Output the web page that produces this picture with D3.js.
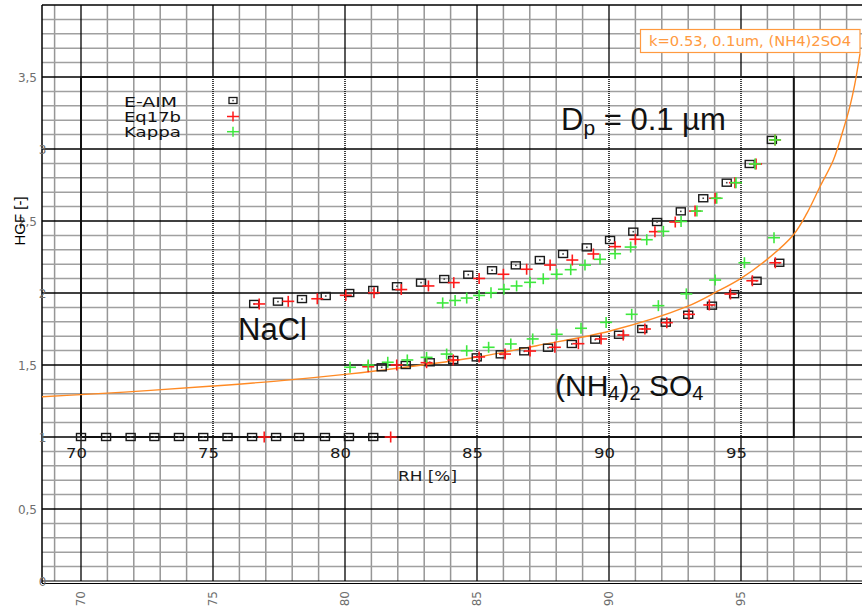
<!DOCTYPE html>
<html>
<head>
<meta charset="utf-8">
<script src="https://cdn.jsdelivr.net/npm/d3@7"></script>
<style>
  body { margin: 0; background: #fff; }
  svg { display: block; }
</style>
</head>
<body>
<svg id="chart" width="862" height="609"></svg>
<script>
// ticks
const rhTicks = [70, 75, 80, 85, 90, 95];
const hgfTicks = [0, 0.5, 1, 1.5, 2, 2.5, 3, 3.5];
const hgfLabels = ["0", "0,5", "1", "1,5", "2", "2,5", "3", "3,5"];

// dry particles, HGF = 1
const eaimDryRH = [70.0, 70.95, 71.88, 72.78, 73.71, 74.63, 75.55, 76.48, 77.39, 78.26, 79.24, 80.15, 81.07];
const eaimDryHGF = [1, 1, 1, 1, 1, 1, 1, 1, 1, 1, 1, 1, 1];
const eq17bDryRH = [76.94, 81.73];
const eq17bDryHGF = [1, 1];

// NaCl branch
const eaimNaClRH = [76.56, 77.46, 78.37, 79.27, 80.16, 81.07, 81.97, 82.88, 83.76, 84.67, 85.57, 86.47, 87.38, 88.26, 89.16, 90.04, 90.92, 91.82, 92.72, 93.57, 94.46, 95.33, 96.17];
const eaimNaClHGF = [1.924, 1.94, 1.958, 1.979, 2.0, 2.021, 2.047, 2.072, 2.097, 2.127, 2.158, 2.192, 2.229, 2.271, 2.317, 2.368, 2.426, 2.493, 2.567, 2.658, 2.766, 2.896, 3.063];
const eq17bNaClRH = [76.75, 77.85, 78.95, 80.03, 81.1, 82.13, 83.16, 84.12, 85.08, 86.0, 86.88, 87.77, 88.61, 89.41, 90.23, 91.0, 91.74, 92.51, 93.26, 94.02, 94.77, 95.57, 96.29];
const eq17bNaClHGF = [1.924, 1.942, 1.96, 1.984, 2.002, 2.024, 2.049, 2.072, 2.101, 2.13, 2.165, 2.194, 2.229, 2.271, 2.322, 2.373, 2.426, 2.493, 2.569, 2.658, 2.766, 2.896, 3.063];
const kappaNaClRH = [83.7, 84.17, 84.61, 85.08, 85.53, 86.02, 86.5, 87.01, 87.51, 88.02, 88.55, 89.09, 89.66, 90.23, 90.82, 91.43, 92.06, 92.73, 93.33, 94.08, 94.81, 95.53, 96.29];
const kappaNaClHGF = [1.931, 1.948, 1.965, 1.983, 2.002, 2.026, 2.049, 2.074, 2.099, 2.13, 2.162, 2.194, 2.234, 2.273, 2.319, 2.37, 2.428, 2.497, 2.569, 2.658, 2.766, 2.896, 3.063];

// (NH4)2SO4 branch
const eaimASRH = [81.39, 82.3, 83.21, 84.1, 84.99, 85.9, 86.79, 87.69, 88.59, 89.48, 90.38, 91.26, 92.15, 93.0, 93.9, 94.74, 95.59, 96.45];
const eaimASHGF = [1.484, 1.5, 1.519, 1.535, 1.553, 1.574, 1.595, 1.62, 1.646, 1.676, 1.71, 1.75, 1.794, 1.849, 1.912, 1.992, 2.085, 2.21];
const eq17bASRH = [80.88, 81.96, 83.09, 84.1, 85.08, 86.06, 87.01, 87.95, 88.84, 89.7, 90.54, 91.36, 92.19, 93.03, 93.8, 94.6, 95.43, 96.3];
const eq17bASHGF = [1.488, 1.5, 1.516, 1.535, 1.556, 1.576, 1.597, 1.623, 1.648, 1.681, 1.708, 1.75, 1.794, 1.852, 1.917, 1.993, 2.085, 2.21];
const kappaASRH = [80.19, 80.88, 81.62, 82.36, 83.09, 83.85, 84.61, 85.44, 86.28, 87.11, 88.02, 88.94, 89.89, 90.86, 91.87, 92.93, 94.02, 95.13, 96.25];
const kappaASHGF = [1.484, 1.5, 1.519, 1.535, 1.553, 1.576, 1.599, 1.623, 1.646, 1.681, 1.713, 1.755, 1.796, 1.852, 1.912, 1.994, 2.09, 2.21, 2.384];

// k=0.53 curve
const curveRH = [68.52, 70, 72.5, 75, 77.5, 80, 82.5, 84.73, 86.0, 87.26, 90.04, 92.94, 94.08, 95.0, 96.0, 96.98, 97.5, 97.99, 98.5, 98.85, 99.13, 99.3, 99.51];
const curveHGF = [1.28, 1.294, 1.322, 1.354, 1.39, 1.435, 1.49, 1.547, 1.588, 1.634, 1.736, 1.905, 2.009, 2.102, 2.235, 2.403, 2.555, 2.738, 2.924, 3.12, 3.3, 3.44, 3.665];

const svg = d3.select("#chart");
const pLeft = 42, pRight = 862, pTop = 5, pBottom = 581;

const x = d3.scaleLinear().domain([70, 95]).range([81, 741]);
const y = d3.scaleLinear().domain([0, 4]).range([pBottom, pTop]);

const zip = (a, b) => a.map((v, i) => [v, b[i]]);

// background grid (graph paper)
const grid = svg.append("g");
const minorX = d3.range(69, 100).filter(v => v % 5 !== 0);
const minorY = d3.range(1, 40).map(i => i / 10).filter(v => Math.round(v * 10) % 5 !== 0);

grid.selectAll(".vminor")
  .data(minorX)
  .enter()
  .append("line")
  .attr("x1", d => x(d)).attr("x2", d => x(d))
  .attr("y1", pTop).attr("y2", pBottom)
  .attr("stroke", "#969696")
  .attr("stroke-width", 1.5);

grid.selectAll(".hminor")
  .data(minorY)
  .enter()
  .append("line")
  .attr("x1", pLeft).attr("x2", pRight)
  .attr("y1", d => y(d)).attr("y2", d => y(d))
  .attr("stroke", "#a0a0a0")
  .attr("stroke-width", 1.5);

// major lines
grid.selectAll(".hmajor")
  .data(hgfTicks.filter(v => v > 0))
  .enter()
  .append("line")
  .attr("x1", pLeft).attr("x2", pRight)
  .attr("y1", d => y(d)).attr("y2", d => y(d))
  .attr("stroke", "#000")
  .attr("stroke-width", 1.3);

// vertical majors: solid outside the inset, dotted inside it
rhTicks.forEach(v => {
  grid.append("line")
    .attr("x1", x(v)).attr("x2", x(v))
    .attr("y1", pTop).attr("y2", y(3.5))
    .attr("stroke", "#000").attr("stroke-width", 1.3);
  grid.append("line")
    .attr("x1", x(v)).attr("x2", x(v))
    .attr("y1", y(1)).attr("y2", pBottom)
    .attr("stroke", "#000").attr("stroke-width", 1.3);
  grid.append("line")
    .attr("x1", x(v)).attr("x2", x(v))
    .attr("y1", y(3.5)).attr("y2", y(1))
    .attr("stroke", "#000").attr("stroke-width", 1.5)
    .attr("stroke-dasharray", v === 70 ? null : "1,1");
});

// frame
svg.append("line").attr("x1", pLeft).attr("x2", pLeft).attr("y1", pTop).attr("y2", pBottom + 2)
  .attr("stroke", "#000").attr("stroke-width", 1.5);
svg.append("line").attr("x1", pLeft).attr("x2", pRight).attr("y1", pTop).attr("y2", pTop)
  .attr("stroke", "#000").attr("stroke-width", 1.5);
[pBottom, pBottom + 2.5].forEach(b => {
  svg.append("line").attr("x1", pLeft).attr("x2", pRight).attr("y1", b).attr("y2", b)
    .attr("stroke", "#000").attr("stroke-width", 1.2);
});

// outer y tick labels
svg.append("g")
  .selectAll("text")
  .data(hgfTicks)
  .enter()
  .append("text")
  .attr("x", (d, i) => hgfLabels[i].length > 1 ? 37 : 42.5)
  .attr("y", d => y(d) + 4.5)
  .attr("text-anchor", (d, i) => hgfLabels[i].length > 1 ? "end" : "middle")
  .attr("fill", "#6e6e6e")
  .style("font-family", "DejaVu Sans")
  .style("font-size", "12px")
  .text((d, i) => hgfLabels[i]);

// outer x tick labels, rotated
svg.append("g")
  .selectAll("text")
  .data(rhTicks)
  .enter()
  .append("text")
  .attr("transform", d => `translate(${x(d) + 4},591) rotate(-90)`)
  .attr("text-anchor", "end")
  .attr("fill", "#6e6e6e")
  .style("font-family", "DejaVu Sans")
  .style("font-size", "12px")
  .text(d => d);

svg.append("text")
  .attr("transform", "translate(25,221) rotate(-90)")
  .attr("text-anchor", "middle")
  .attr("fill", "#000")
  .style("font-family", "Liberation Sans")
  .style("font-size", "15px")
  .text("HGF [-]");

// inset frame
svg.append("rect")
  .attr("x", x(70)).attr("y", y(3.5))
  .attr("width", x(97) - x(70)).attr("height", y(1) - y(3.5))
  .attr("fill", "none")
  .attr("stroke", "#111")
  .attr("stroke-width", 2);

// inset x tick labels
svg.append("g")
  .selectAll("text")
  .data(rhTicks)
  .enter()
  .append("text")
  .attr("x", d => x(d) - 15)
  .attr("y", 458)
  .attr("textLength", 21)
  .attr("lengthAdjust", "spacingAndGlyphs")
  .attr("fill", "#1a1a1a")
  .style("font-family", "DejaVu Sans")
  .style("font-size", "13.5px")
  .text(d => d);

svg.append("text")
  .attr("x", 398).attr("y", 481)
  .attr("textLength", 59)
  .attr("lengthAdjust", "spacingAndGlyphs")
  .attr("fill", "#1a1a1a")
  .style("font-family", "DejaVu Sans")
  .style("font-size", "13.5px")
  .text("RH [%]");

// k=0.53 curve
svg.append("clipPath").attr("id", "plotclip")
  .append("rect").attr("x", pLeft).attr("y", pTop).attr("width", pRight - pLeft).attr("height", pBottom - pTop);

const line = d3.line()
  .x(d => x(d[0]))
  .y(d => y(d[1]))
  .curve(d3.curveCatmullRom.alpha(0.5));

svg.append("path")
  .datum(zip(curveRH, curveHGF))
  .attr("clip-path", "url(#plotclip)")
  .attr("fill", "none")
  .attr("stroke", "#ff8a24")
  .attr("stroke-width", 1.4)
  .attr("d", line);

// markers
function drawSquares(rh, hgf) {
  const g = svg.append("g");
  const pts = zip(rh, hgf);
  g.selectAll("rect.box")
    .data(pts)
    .enter()
    .append("rect")
    .attr("class", "box")
    .attr("x", d => x(d[0]) - 4.5)
    .attr("y", d => y(d[1]) - 3.5)
    .attr("width", 9).attr("height", 7)
    .attr("fill", "none")
    .attr("stroke", "#1a1a1a")
    .attr("stroke-width", 1.4);
  g.selectAll("rect.dot")
    .data(pts)
    .enter()
    .append("rect")
    .attr("class", "dot")
    .attr("x", d => x(d[0]) - 0.8)
    .attr("y", d => y(d[1]) - 0.8)
    .attr("width", 1.6).attr("height", 1.6)
    .attr("fill", "#444");
}

function drawCrosses(rh, hgf, color) {
  const g = svg.append("g").attr("stroke", color).attr("stroke-width", 1.6);
  const pts = zip(rh, hgf);
  g.selectAll("line.h")
    .data(pts)
    .enter()
    .append("line")
    .attr("class", "h")
    .attr("x1", d => x(d[0]) - 6).attr("x2", d => x(d[0]) + 6)
    .attr("y1", d => y(d[1])).attr("y2", d => y(d[1]));
  g.selectAll("line.v")
    .data(pts)
    .enter()
    .append("line")
    .attr("class", "v")
    .attr("x1", d => x(d[0])).attr("x2", d => x(d[0]))
    .attr("y1", d => y(d[1]) - 5.5).attr("y2", d => y(d[1]) + 5.5);
}

drawSquares(eaimDryRH, eaimDryHGF);
drawSquares(eaimNaClRH, eaimNaClHGF);
drawSquares(eaimASRH, eaimASHGF);
drawCrosses(eq17bDryRH, eq17bDryHGF, "#ff1a1a");
drawCrosses(eq17bNaClRH, eq17bNaClHGF, "#ff1a1a");
drawCrosses(eq17bASRH, eq17bASHGF, "#ff1a1a");
drawCrosses(kappaNaClRH, kappaNaClHGF, "#3ee83e");
drawCrosses(kappaASRH, kappaASHGF, "#3ee83e");

// legend
const legendNames = ["E-AIM", "Eq17b", "Kappa"];
const legendWidths = [53, 57, 57];
legendNames.forEach((name, i) => {
  const ly = 101 + i * 15.3;
  svg.append("text")
    .attr("x", 124).attr("y", ly + 5.5)
    .attr("textLength", legendWidths[i])
    .attr("lengthAdjust", "spacingAndGlyphs")
    .attr("fill", "#111")
    .style("font-family", "DejaVu Sans")
    .style("font-size", "14px")
    .text(name);
});
svg.append("rect").attr("x", 229).attr("y", 97.5).attr("width", 8).attr("height", 6)
  .attr("fill", "none").attr("stroke", "#1a1a1a").attr("stroke-width", 1.3);
svg.append("rect").attr("x", 232.3).attr("y", 99.8).attr("width", 1.5).attr("height", 1.5).attr("fill", "#444");
[["#ff1a1a", 116.5], ["#3ee83e", 131.7]].forEach(([c, cy]) => {
  svg.append("line").attr("x1", 227).attr("x2", 239).attr("y1", cy).attr("y2", cy)
    .attr("stroke", c).attr("stroke-width", 1.5);
  svg.append("line").attr("x1", 233).attr("x2", 233).attr("y1", cy - 5).attr("y2", cy + 5)
    .attr("stroke", c).attr("stroke-width", 1.5);
});

// big annotations
const dp = svg.append("text")
  .attr("x", 561).attr("y", 130)
  .attr("fill", "#111")
  .style("font-family", "Liberation Sans")
  .style("font-size", "31px");
dp.append("tspan").text("D");
dp.append("tspan").attr("dy", 5).style("font-size", "21px").text("p");
dp.append("tspan").attr("dy", -5).text(" = 0.1 µm");

svg.append("text")
  .attr("x", 238).attr("y", 340)
  .attr("fill", "#111")
  .style("font-family", "Liberation Sans")
  .style("font-size", "31px")
  .text("NaCl");

const as = svg.append("text")
  .attr("x", 555).attr("y", 396)
  .attr("fill", "#111")
  .style("font-family", "Liberation Sans")
  .style("font-size", "30px");
as.append("tspan").text("(NH");
as.append("tspan").attr("dy", 4).style("font-size", "20px").text("4");
as.append("tspan").attr("dy", -4).text(")");
as.append("tspan").attr("dy", 4).style("font-size", "20px").text("2");
as.append("tspan").attr("dy", -4).text(" SO");
as.append("tspan").attr("dy", 4).style("font-size", "20px").text("4");

// curve tag
svg.append("rect")
  .attr("x", 640.5).attr("y", 29.5)
  .attr("width", 219.5).attr("height", 23)
  .attr("fill", "#fff")
  .attr("stroke", "#ff9a40")
  .attr("stroke-width", 1.2);
svg.append("text")
  .attr("x", 649).attr("y", 46)
  .attr("textLength", 202)
  .attr("lengthAdjust", "spacingAndGlyphs")
  .attr("fill", "#ff9a40")
  .style("font-family", "DejaVu Sans")
  .style("font-size", "14px")
  .text("k=0.53, 0.1um, (NH4)2SO4");
</script>
</body>
</html>
